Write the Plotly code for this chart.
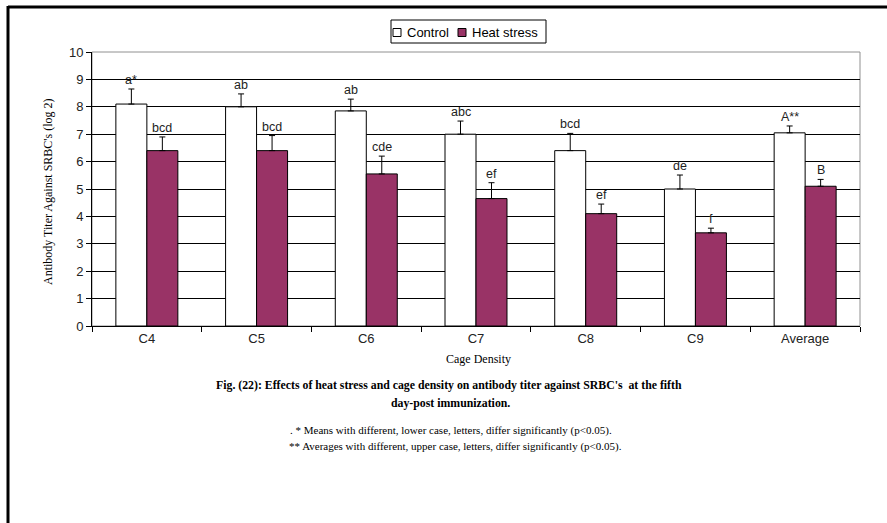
import plotly.graph_objects as go

categories = ["C4", "C5", "C6", "C7", "C8", "C9", "Average"]
control_vals = [8.1, 8.0, 7.85, 7.0, 6.4, 5.0, 7.05]
control_err = [0.55, 0.47, 0.43, 0.48, 0.63, 0.51, 0.25]
heat_vals = [6.4, 6.4, 5.55, 4.65, 4.1, 3.4, 5.1]
heat_err = [0.5, 0.55, 0.65, 0.58, 0.35, 0.17, 0.25]
control_labels = ["a*", "ab", "ab", "abc", "bcd", "de", "A**"]
heat_labels = ["bcd", "bcd", "cde", "ef", "ef", "f", "B"]
y_ticks = list(range(0, 11))

SANS = "Liberation Sans, Arial, sans-serif"
SERIF = "Liberation Serif, Times New Roman, serif"
PURPLE = "#993366"

# plot area in pixels
L, R, T, B = 92, 860, 52, 326
W, H = 887, 523


def px(x):
    return (x - L) / (R - L)


def py(y):
    return (B - y) / (B - T)


fig = go.Figure()
fig.add_trace(go.Bar(
    name="Control", x=categories, y=control_vals,
    marker=dict(color="white", line=dict(color="black", width=1)),
    error_y=dict(type="data", array=control_err, arrayminus=[0] * len(control_err),
                 symmetric=False, color="black", thickness=1, width=3),
))
fig.add_trace(go.Bar(
    name="Heat stress", x=categories, y=heat_vals,
    marker=dict(color=PURPLE, line=dict(color="black", width=1)),
    error_y=dict(type="data", array=heat_err, arrayminus=[0] * len(heat_err),
                 symmetric=False, color="black", thickness=1, width=3),
))

annotations = []
for cat, v, e, lab in zip(categories, control_vals, control_err, control_labels):
    annotations.append(dict(x=cat, y=v + e, text=lab, xref="x", yref="y", showarrow=False,
                            xshift=-15.5, yanchor="bottom", yshift=0,
                            font=dict(family=SANS, size=12.5, color="#222")))
for cat, v, e, lab in zip(categories, heat_vals, heat_err, heat_labels):
    annotations.append(dict(x=cat, y=v + e, text=lab, xref="x", yref="y", showarrow=False,
                            xshift=15.5, yanchor="bottom", yshift=0,
                            font=dict(family=SANS, size=12.5, color="#222")))

# axis titles & captions
annotations.append(dict(text="Antibody Titer Against SRBC's (log 2)", xref="paper", yref="paper",
                        x=px(48), y=py(192), textangle=-90, showarrow=False,
                        xanchor="center", yanchor="middle",
                        font=dict(family=SERIF, size=12, color="black")))
annotations.append(dict(text="Cage Density", xref="paper", yref="paper",
                        x=px(478), y=py(359), showarrow=False, xanchor="center", yanchor="middle",
                        font=dict(family=SERIF, size=12, color="black")))
annotations.append(dict(text="<b>Fig. (22): Effects of heat stress and cage density on antibody titer against SRBC's  at the fifth</b>",
                        xref="paper", yref="paper", x=px(449), y=py(385),
                        showarrow=False, xanchor="center", yanchor="middle",
                        font=dict(family=SERIF, size=11.8, color="black")))
annotations.append(dict(text="<b>day-post immunization.</b>",
                        xref="paper", yref="paper", x=px(450), y=py(403),
                        showarrow=False, xanchor="center", yanchor="middle",
                        font=dict(family=SERIF, size=11.8, color="black")))
annotations.append(dict(text=". * Means with different, lower case, letters, differ significantly (p<0.05).",
                        xref="paper", yref="paper", x=px(451), y=py(430),
                        showarrow=False, xanchor="center", yanchor="middle",
                        font=dict(family=SERIF, size=11, color="black")))
annotations.append(dict(text="** Averages with different, upper case, letters, differ significantly (p<0.05).",
                        xref="paper", yref="paper", x=px(455), y=py(446),
                        showarrow=False, xanchor="center", yanchor="middle",
                        font=dict(family=SERIF, size=11, color="black")))

# legend (compact, Excel-style)
legend_names = ["Control", "Heat stress"]
legend_colors = ["white", PURPLE]
legend_sq_x = [393, 458]
for name, col, sx in zip(legend_names, legend_colors, legend_sq_x):
    annotations.append(dict(text=name, xref="paper", yref="paper", x=px(sx + 12), y=py(32),
                            showarrow=False, xanchor="left", yanchor="middle",
                            font=dict(family=SANS, size=13, color="black")))

shapes = [
    # plot area border (gray)
    dict(type="rect", xref="paper", yref="paper", x0=0, y0=0, x1=1, y1=1,
         line=dict(color="#909090", width=1), layer="below"),
    # outer frame: top and left thick lines
    dict(type="line", xref="paper", yref="paper", x0=px(8), x1=px(900),
         y0=py(7), y1=py(7), line=dict(color="black", width=3)),
    dict(type="line", xref="paper", yref="paper", x0=px(8), x1=px(8),
         y0=py(6), y1=py(540), line=dict(color="black", width=3)),
    # legend box
    dict(type="rect", xref="paper", yref="paper", x0=px(391), x1=px(546),
         y0=py(43), y1=py(20), line=dict(color="black", width=1), fillcolor="white"),
]
for col, sx in zip(legend_colors, legend_sq_x):
    shapes.append(dict(type="rect", xref="paper", yref="paper", x0=px(sx), x1=px(sx + 8),
                       y0=py(36.5), y1=py(28.5), line=dict(color="black", width=1),
                       fillcolor=col))

fig.update_layout(
    width=W, height=H,
    margin=dict(l=L, r=W - R, t=T, b=H - B),
    paper_bgcolor="white", plot_bgcolor="white",
    barmode="group", bargap=0.435, bargroupgap=0,
    showlegend=False,
    xaxis=dict(type="category", showgrid=False, showline=True, linecolor="black", linewidth=1,
               ticks="outside", tickson="boundaries", ticklen=5, tickcolor="black",
               tickfont=dict(family=SANS, size=13, color="#222"), mirror=False),
    yaxis=dict(range=[0, 10], tickvals=y_ticks, showgrid=True, gridcolor="black", gridwidth=1,
               showline=True, linecolor="black", linewidth=1, zeroline=False,
               ticks="outside", ticklen=5, tickcolor="black",
               tickfont=dict(family=SANS, size=13, color="#222")),
    annotations=annotations,
    shapes=shapes,
)

fig.write_html("out.html", config={"displayModeBar": False},
               post_script="document.body.style.margin='0';document.body.style.overflow='hidden';")
